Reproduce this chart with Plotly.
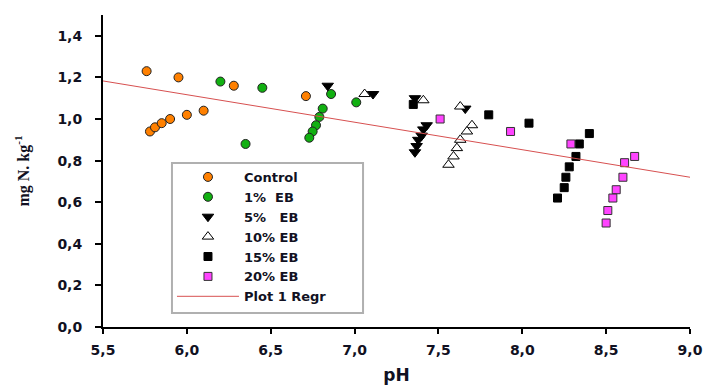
import plotly.graph_objects as go

# ---- data ----
control_x = [5.76, 5.95, 6.28, 6.71, 5.78, 5.81, 5.85, 5.90, 6.00, 6.10]
control_y = [1.23, 1.20, 1.16, 1.11, 0.94, 0.96, 0.98, 1.00, 1.02, 1.04]

eb1_x = [6.20, 6.45, 6.35, 6.86, 6.81, 6.79, 6.77, 6.75, 6.73, 7.01]
eb1_y = [1.18, 1.15, 0.88, 1.12, 1.05, 1.01, 0.97, 0.94, 0.91, 1.08]

eb5_x = [6.84, 7.11, 7.36, 7.66, 7.43, 7.41, 7.40, 7.38, 7.37, 7.36]
eb5_y = [1.16, 1.12, 1.10, 1.05, 0.97, 0.95, 0.92, 0.90, 0.87, 0.84]

eb10_x = [7.06, 7.41, 7.63, 7.70, 7.67, 7.63, 7.61, 7.59, 7.56]
eb10_y = [1.12, 1.09, 1.06, 0.97, 0.94, 0.90, 0.86, 0.82, 0.78]

eb15_x = [7.35, 7.80, 8.04, 8.40, 8.34, 8.32, 8.28, 8.26, 8.25, 8.21]
eb15_y = [1.07, 1.02, 0.98, 0.93, 0.88, 0.82, 0.77, 0.72, 0.67, 0.62]

eb20_x = [7.51, 7.93, 8.29, 8.67, 8.61, 8.60, 8.56, 8.54, 8.51, 8.50]
eb20_y = [1.00, 0.94, 0.88, 0.82, 0.79, 0.72, 0.66, 0.62, 0.56, 0.50]

regr_x = [5.5, 9.0]
regr_y = [1.183, 0.72]

x_ticks = [5.5, 6.0, 6.5, 7.0, 7.5, 8.0, 8.5, 9.0]
y_ticks = [0.0, 0.2, 0.4, 0.6, 0.8, 1.0, 1.2, 1.4]

names = ["Control", "1%  EB", "5%   EB", "10% EB", "15% EB", "20% EB", "Plot 1 Regr"]

fig = go.Figure()

def add_scatter(x, y, name, symbol, color, line_color, size):
    fig.add_trace(go.Scatter(
        x=x, y=y, mode="markers", name=name,
        marker=dict(symbol=symbol, color=color, size=size,
                    line=dict(color=line_color, width=1)),
    ))

add_scatter(control_x, control_y, names[0], "circle", "#ff8000", "#222222", 9)
add_scatter(eb1_x, eb1_y, names[1], "circle", "#11b011", "#222222", 9)
add_scatter(eb5_x, eb5_y, names[2], "triangle-down", "#000000", "#000000", 10)
add_scatter(eb10_x, eb10_y, names[3], "triangle-up", "#ffffff", "#000000", 10)
add_scatter(eb15_x, eb15_y, names[4], "square", "#000000", "#000000", 8)
add_scatter(eb20_x, eb20_y, names[5], "square", "#ff44ff", "#333333", 8)

fig.add_trace(go.Scatter(
    x=regr_x, y=regr_y, mode="lines", name=names[6],
    line=dict(color="rgb(215,80,80)", width=1),
))

tick_font = dict(family="DejaVu Sans", size=14, color="#111122", weight="bold")

# legend frame (decoration), wider than plotly's auto-sized legend box
fig.add_shape(type="rect", xref="paper", yref="paper",
              x0=0.1175, x1=0.443, y0=0.045, y1=0.526,
              fillcolor="white", line=dict(color="#b0b0b0", width=2),
              layer="above")

fig.update_layout(
    width=703, height=385,
    margin=dict(l=103, r=13, t=15, b=58, autoexpand=False),
    paper_bgcolor="white", plot_bgcolor="white",
    separators=", ",
    showlegend=True,
    legend=dict(
        x=0.1175, y=0.529, xanchor="left", yanchor="top",
        bgcolor="rgba(0,0,0,0)", borderwidth=0,
        font=dict(family="DejaVu Sans", size=13, color="#111122", weight="bold"),
        itemwidth=62, tracegroupgap=0,
    ),
    xaxis=dict(
        range=[5.5, 9.0], tickvals=x_ticks, tickformat=".1f",
        showgrid=False, zeroline=False, automargin=False,
        showline=True, linecolor="black", linewidth=2,
        ticks="outside", ticklen=5, tickwidth=1.5, tickcolor="black",
        tickfont=tick_font, ticklabelstandoff=4,
        title=dict(text="pH", font=dict(family="DejaVu Sans", size=17,
                                        color="#111122", weight="bold"),
                   standoff=12),
    ),
    yaxis=dict(
        range=[0, 1.5], tickvals=y_ticks, tickformat=".1f",
        showgrid=False, zeroline=False, automargin=False,
        showline=True, linecolor="black", linewidth=2,
        ticks="outside", ticklen=6, tickwidth=1.5, tickcolor="black",
        tickfont=tick_font, ticklabelstandoff=10,
        title=dict(text="mg N. kg<sup>-1</sup>",
                   font=dict(family="Liberation Serif", size=16,
                             color="#111122", weight="bold"),
                   standoff=24),
    ),
)

fig.write_html("out.html")
